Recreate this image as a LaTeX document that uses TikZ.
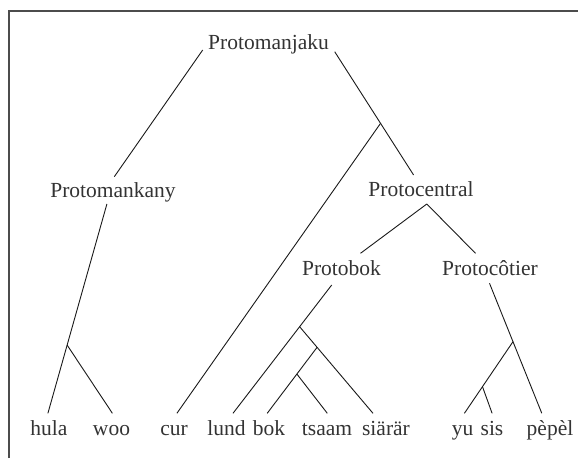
\documentclass[tikz,border=0pt]{standalone}
\usepackage{fontspec}
\setmainfont{Liberation Serif}
\usetikzlibrary{calc}
\begin{document}
\begin{tikzpicture}[x=1pt,y=-1pt,
  lbl/.style={anchor=base, inner sep=0pt, text=black!80, font=\fontsize{21.5}{24}\selectfont},
  edge/.style={draw=black!90, line width=0.9pt},
  frameline/.style={draw=black!70, line width=1.4pt}]
\useasboundingbox (0,0) rectangle (578,458);
\draw[frameline] (9,458) -- (9,11) -- (578,11);
% inner nodes
\node[lbl] (pmj) at (268.5,49) {Protomanjaku};
\node[lbl] (pmk) at (113,197) {Protomankany};
\node[lbl] (pc) at (421,196) {Protocentral};
\node[lbl] (pb) at (341.5,275) {Protobok};
\node[lbl] (pco) at (490,275) {Protocôtier};
% leaves
\node[lbl] (hula) at (49,435) {hula};
\node[lbl] (woo) at (111.5,435) {woo};
\node[lbl] (cur) at (174,435) {cur};
\node[lbl] (lund) at (226.5,435) {lund};
\node[lbl] (bok) at (269,435) {bok};
\node[lbl] (tsaam) at (327,435) {tsaam};
\node[lbl] (siarar) at (386,435) {siärär};
\node[lbl] (yu) at (462.5,435) {yu};
\node[lbl] (sis) at (492,435) {sis};
\node[lbl] (pepel) at (550,435) {pèpèl};
% connector ends
\coordinate (pmj-l) at (202.7,50);
\coordinate (pmj-r) at (334.7,51.7);
\coordinate (pmk-t) at (114.3,176.7);
\coordinate (pmk-b) at (106.9,204);
\coordinate (pc-t) at (413.6,175);
\coordinate (pc-b) at (426.8,204);
\coordinate (pb-t) at (360.5,253.3);
\coordinate (pb-b) at (331.7,285);
\coordinate (pco-t) at (475.5,253.3);
\coordinate (pco-b) at (489.5,283.3);
\coordinate (hula-t) at (47.9,413.3);
\coordinate (woo-t) at (112.4,413.3);
\coordinate (cur-t) at (176.9,413.3);
\coordinate (lund-t) at (233,413.3);
\coordinate (bok-t) at (267.2,413.3);
\coordinate (tsaam-t) at (327.3,413.3);
\coordinate (siarar-t) at (373,413.3);
\coordinate (yu-t) at (464.4,413.3);
\coordinate (sis-t) at (492.1,413.3);
\coordinate (pepel-t) at (541.8,413.3);
% junctions
\coordinate (jr) at ($(pmj-r)!0.581!(pc-t)$);
\coordinate (j6) at ($(pmk-b)!0.674!(hula-t)$);
\coordinate (j1) at ($(pb-b)!0.325!(lund-t)$);
\coordinate (j2) at ($(j1)!0.238!(siarar-t)$);
\coordinate (j3) at ($(j2)!0.405!(bok-t)$);
\coordinate (j4) at ($(pco-b)!0.449!(pepel-t)$);
\coordinate (j5) at ($(j4)!0.628!(yu-t)$);
% connectors
\draw[edge] (pmj-l) -- (pmk-t);
\draw[edge] (pmj-r) -- (pc-t);
\draw[edge] (jr) -- (cur-t);
\draw[edge] (pmk-b) -- (hula-t);
\draw[edge] (j6) -- (woo-t);
\draw[edge] (pc-b) -- (pb-t);
\draw[edge] (pc-b) -- (pco-t);
\draw[edge] (pb-b) -- (lund-t);
\draw[edge] (j1) -- (siarar-t);
\draw[edge] (j2) -- (bok-t);
\draw[edge] (j3) -- (tsaam-t);
\draw[edge] (pco-b) -- (pepel-t);
\draw[edge] (j4) -- (yu-t);
\draw[edge] (j5) -- (sis-t);
\end{tikzpicture}
\end{document}
